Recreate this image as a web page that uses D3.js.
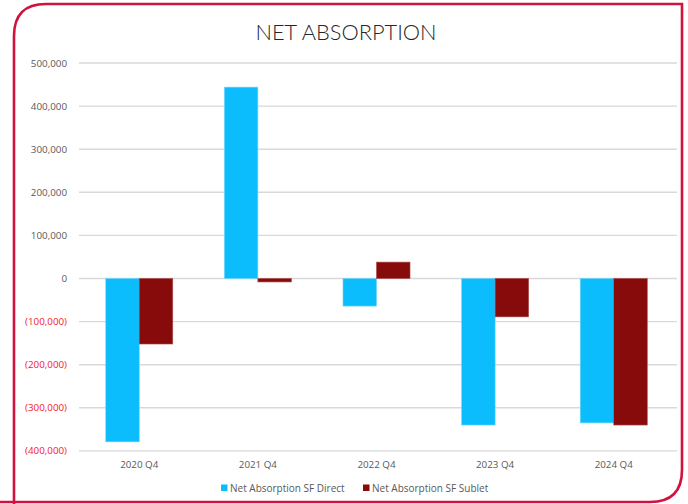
<!DOCTYPE html>
<html><head><meta charset="utf-8">
<script src="https://cdn.jsdelivr.net/npm/d3@7"></script>
<style>html,body{margin:0;padding:0;background:#fff;}svg{display:block;}</style>
</head><body>
<svg id="c" width="688" height="504"></svg>
<script>
const categories = ["2020 Q4","2021 Q4","2022 Q4","2023 Q4","2024 Q4"];
const seriesNames = ["Net Absorption SF Direct","Net Absorption SF Sublet"];
const direct = [-379000, 444000, -64000, -340000, -335000];
const sublet = [-152000, -8000, 38000, -89000, -340000];
const yTicks = [-400000,-300000,-200000,-100000,0,100000,200000,300000,400000,500000];
const colors = ["#0bbdfd","#870b0b"];
const strokes = ["#6fd6fc","#a94a4a"];

const svg = d3.select("#c");
// frame
const L=14,T=4,R=682,B=502,r=32;
svg.append("path")
  .attr("d",`M${L},520 L${L},${T+r} Q${L},${T} ${L+r},${T} L${R},${T} L${R},${B-r} Q${R},${B} ${R-r},${B} L-10,${B}`)
  .attr("fill","none").attr("stroke","#d0123f").attr("stroke-width",2.6);

svg.append("text").attr("x",346).attr("y",40).attr("text-anchor","middle")
  .attr("font-family","Lato, 'Open Sans', sans-serif").attr("font-weight",300)
  .attr("font-size",21.8).attr("fill","#262626").text("NET ABSORPTION");

const g0 = 79, g1 = 677;
const y = d3.scaleLinear().domain([-400000,500000]).range([450.9,63]);
const x = d3.scaleBand().domain(categories).range([80,673]).paddingInner(0.435).paddingOuter(0.217);
const xs = d3.scaleBand().domain([0,1]).range([0,x.bandwidth()]);

// gridlines
svg.append("g").selectAll("line").data(yTicks).join("line")
  .attr("x1",g0).attr("x2",g1).attr("y1",d=>y(d)).attr("y2",d=>y(d))
  .attr("stroke","#d9d9d9").attr("stroke-width",1.4);

// y labels
const fmt = d3.format(",");
svg.append("g").selectAll("text").data(yTicks).join("text")
  .attr("x",67).attr("y",d=>y(d)+3.5).attr("text-anchor","end")
  .attr("font-family","'Open Sans', sans-serif").attr("font-size",9.8)
  .attr("fill",d=>d<0?"#f5202a":"#595959")
  .text(d=>d<0?"("+fmt(-d)+")":fmt(d));

// bars
[direct,sublet].forEach((vals,si)=>{
  svg.append("g").selectAll("rect").data(vals).join("rect")
    .attr("x",(d,i)=>x(categories[i])+xs(si))
    .attr("width",xs.bandwidth())
    .attr("y",d=>y(Math.max(0,d)))
    .attr("height",d=>Math.abs(y(d)-y(0)))
    .attr("fill",colors[si]).attr("stroke",strokes[si]).attr("stroke-width",0.6);
});

// x labels
svg.append("g").selectAll("text").data(categories).join("text")
  .attr("x",d=>x(d)+x.bandwidth()/2).attr("y",468).attr("text-anchor","middle")
  .attr("font-family","'Open Sans', sans-serif").attr("font-size",9.8)
  .attr("fill","#595959").text(d=>d);

// legend
const lg = svg.append("g");
const lx = [221, 363];
seriesNames.forEach((n,i)=>{
  lg.append("rect").attr("x",lx[i]).attr("y",484.5).attr("width",6.5).attr("height",6.5).attr("fill",colors[i]);
  lg.append("text").attr("x",lx[i]+9).attr("y",491.5).attr("font-family","'Open Sans', sans-serif")
    .attr("font-size",10).attr("fill","#595959").text(n);
});
</script>
</body></html>
